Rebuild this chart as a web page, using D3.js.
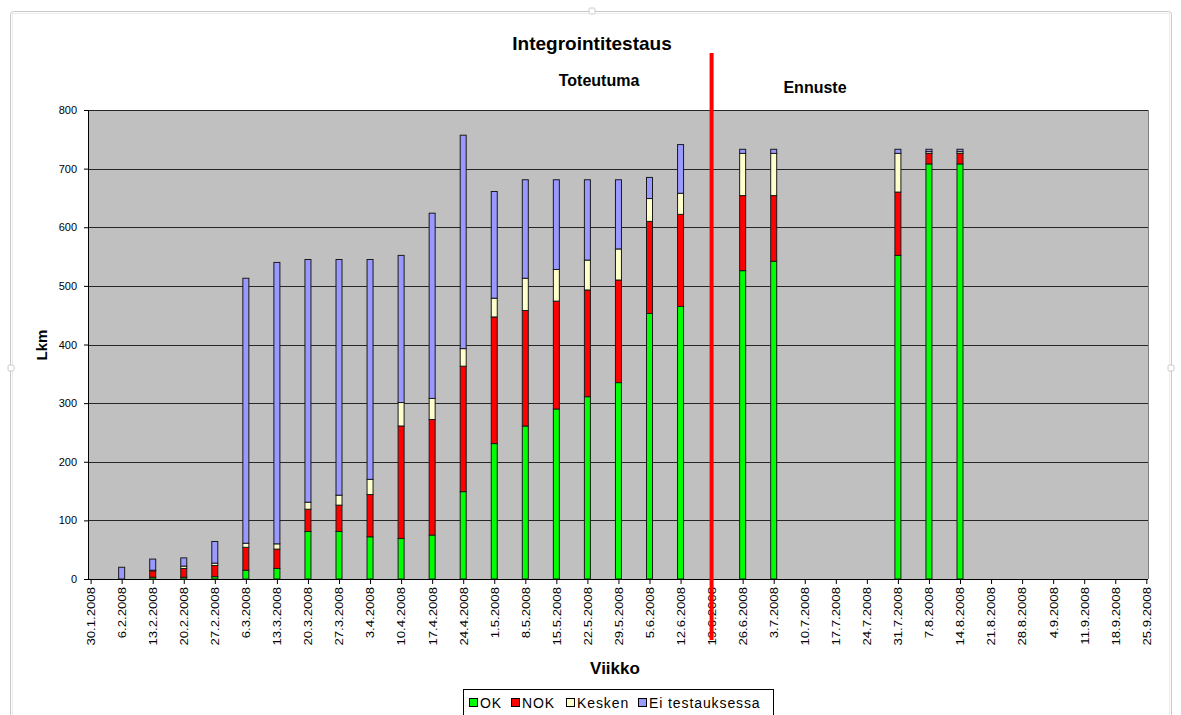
<!DOCTYPE html>
<html>
<head>
<meta charset="utf-8">
<script src="https://cdn.jsdelivr.net/npm/d3@7/dist/d3.min.js"></script>
<style>
  html, body { margin: 0; padding: 0; background: #ffffff; }
  svg { display: block; font-family: "Liberation Sans", Arial, sans-serif; }
</style>
</head>
<body>
<svg id="chart" width="1181" height="715"></svg>
<script>
// Weekly integration test status (Lkm per week)
const weeks = ["30.1.2008","6.2.2008","13.2.2008","20.2.2008","27.2.2008","6.3.2008","13.3.2008",
  "20.3.2008","27.3.2008","3.4.2008","10.4.2008","17.4.2008","24.4.2008","1.5.2008","8.5.2008",
  "15.5.2008","22.5.2008","29.5.2008","5.6.2008","12.6.2008","19.6.2008","26.6.2008","3.7.2008",
  "10.7.2008","17.7.2008","24.7.2008","31.7.2008","7.8.2008","14.8.2008","21.8.2008","28.8.2008",
  "4.9.2008","11.9.2008","18.9.2008","25.9.2008"];

const ok     = [0,0,3,3,4,15,18,81,81,72,69,75,149,231,261,290,311,335,453,465,0,526,542,0,0,0,552,708,708,0,0,0,0,0,0];
const nok    = [0,0,11,15,19,39,33,38,45,72,192,197,214,216,197,184,182,175,157,157,0,128,112,0,0,0,108,18,18,0,0,0,0,0,0];
const kesken = [0,0,1,4,4,7,9,12,17,26,40,36,30,32,55,54,51,53,39,36,0,72,72,0,0,0,66,3,3,0,0,0,0,0,0];
const eiTest = [0,20,19,14,37,452,480,414,402,375,251,316,364,182,168,153,137,118,36,83,0,7,7,0,0,0,7,4,4,0,0,0,0,0,0];

const seriesNames = ["OK","NOK","Kesken","Ei testauksessa"];
const seriesColors = ["#00ff00","#ff0000","#ffffcc","#9999ff"];
const yTicks = [0,100,200,300,400,500,600,700,800];
const dividerWeek = "19.6.2008";

const svg = d3.select("#chart");

// Outer chart frame
svg.append("rect").attr("x", 10.5).attr("y", 11.5).attr("width", 1161).attr("height", 720)
  .attr("rx", 3).attr("fill", "none").attr("stroke", "#c8c8c8").attr("stroke-width", 1);
svg.append("rect").attr("x", 12.5).attr("y", 13.5).attr("width", 1157).attr("height", 720)
  .attr("fill", "none").attr("stroke", "#ececec").attr("stroke-width", 1);
[[592, 11], [11, 368], [1171, 368]].forEach(([hx, hy]) => {
  svg.append("rect").attr("x", hx - 3).attr("y", hy - 3).attr("width", 6).attr("height", 6)
    .attr("rx", 1.5).attr("fill", "#ffffff").attr("stroke", "#c8c8c8");
});

const plot = { left: 88, right: 1148, top: 110, bottom: 579 };

const x = d3.scalePoint().domain(weeks).range([90.6, 1146.3]);
const y = d3.scaleLinear().domain([0, 800]).range([plot.bottom, plot.top]);

// Plot background
svg.append("rect").attr("x", plot.left).attr("y", plot.top)
  .attr("width", plot.right - plot.left).attr("height", plot.bottom - plot.top)
  .attr("fill", "#c0c0c0");
svg.append("line").attr("x1", plot.right + 0.5).attr("x2", plot.right + 0.5)
  .attr("y1", plot.top).attr("y2", plot.bottom).attr("stroke", "#808080");

// Gridlines
svg.append("g").selectAll("line").data(yTicks.filter(d => d > 0)).join("line")
  .attr("x1", plot.left).attr("x2", plot.right)
  .attr("y1", d => Math.round(y(d)) + 0.5).attr("y2", d => Math.round(y(d)) + 0.5)
  .attr("stroke", "#262626").attr("stroke-width", 1.2);

// Stacked bars
const table = weeks.map((w, i) => ({ week: w, OK: ok[i], NOK: nok[i], Kesken: kesken[i], "Ei testauksessa": eiTest[i] }));
const stacked = d3.stack().keys(seriesNames)(table);
const barW = 6;
svg.append("g").selectAll("g").data(stacked).join("g")
  .attr("fill", (d, i) => seriesColors[i])
  .selectAll("rect").data(d => d.filter(s => s[1] - s[0] > 0)).join("rect")
  .attr("x", d => x(d.data.week) - barW / 2)
  .attr("y", d => y(d[1]))
  .attr("width", barW)
  .attr("height", d => y(d[0]) - y(d[1]))
  .attr("stroke", "#1a1a1a").attr("stroke-width", 1);

// Y axis
const yAxis = svg.append("g").attr("transform", `translate(${plot.left},0)`)
  .call(d3.axisLeft(y).tickValues(yTicks).tickSize(4).tickPadding(7));
yAxis.select(".domain").attr("stroke", "#000");
yAxis.selectAll("text").attr("font-size", 11).attr("fill", "#000")
  .attr("font-family", "'Liberation Sans', Arial, sans-serif");

// X axis
const xAxis = svg.append("g").attr("transform", `translate(0,${plot.bottom})`)
  .call(d3.axisBottom(x).tickSize(5).tickSizeOuter(0));
xAxis.select(".domain").attr("stroke", "#000").attr("d", `M${plot.left},0.5H${plot.right}`);
xAxis.selectAll("text")
  .attr("font-size", 11).attr("fill", "#000")
  .attr("font-family", "'Liberation Sans', Arial, sans-serif")
  .attr("text-anchor", "end")
  .attr("dy", "0.35em")
  .attr("transform", "translate(0,8) scale(1,1.2) rotate(-90)")
  .attr("x", 0).attr("y", 0);

// Divider between realised and forecast
svg.append("line")
  .attr("x1", x(dividerWeek)).attr("x2", x(dividerWeek))
  .attr("y1", 53).attr("y2", 640)
  .attr("stroke", "#ff0000").attr("stroke-width", 4);

// Titles
svg.append("text").attr("x", 592).attr("y", 50).attr("text-anchor", "middle")
  .attr("font-size", 19).attr("font-weight", "bold").text("Integrointitestaus");
svg.append("text").attr("x", 599).attr("y", 86).attr("text-anchor", "middle")
  .attr("font-size", 16).attr("font-weight", "bold").text("Toteutuma");
svg.append("text").attr("x", 815).attr("y", 93).attr("text-anchor", "middle")
  .attr("font-size", 16).attr("font-weight", "bold").text("Ennuste");
svg.append("text").attr("transform", "translate(47,345) rotate(-90)").attr("text-anchor", "middle")
  .attr("font-size", 15).attr("font-weight", "bold").text("Lkm");
svg.append("text").attr("x", 615).attr("y", 674).attr("text-anchor", "middle")
  .attr("font-size", 17).attr("font-weight", "bold").text("Viikko");

// Legend
const legend = svg.append("g");
legend.append("rect").attr("x", 463.5).attr("y", 689.5).attr("width", 310).attr("height", 30)
  .attr("fill", "#ffffff").attr("stroke", "#000");
const legendX = [469, 511, 566, 638];
seriesNames.forEach((name, i) => {
  const g = legend.append("g").attr("transform", `translate(${legendX[i]},698)`);
  g.append("rect").attr("x", 0.5).attr("y", 0.5).attr("width", 8).attr("height", 8)
    .attr("fill", seriesColors[i]).attr("stroke", "#000");
  g.append("text").attr("x", 11).attr("y", 9.5).attr("font-size", 14)
    .attr("letter-spacing", 0.9).text(name);
});
</script>
</body>
</html>
